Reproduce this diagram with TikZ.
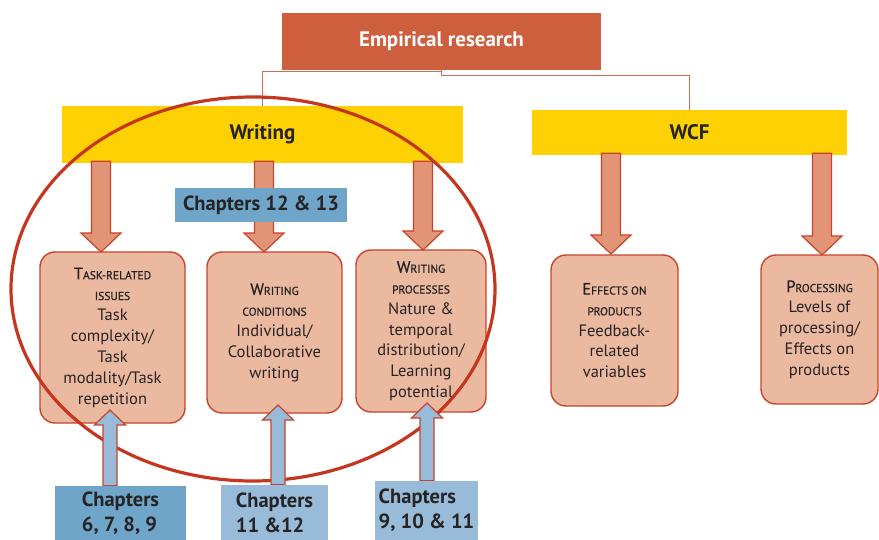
\documentclass[tikz,border=0pt]{standalone}
\usepackage{fontspec}
\setmainfont{PT Sans}
\newfontfamily\headfont[FakeBold=0.7]{PT Sans}
\usetikzlibrary{calc}

\definecolor{brick}{HTML}{CD5F3F}
\definecolor{gold}{HTML}{FDD103}
\definecolor{salmon}{HTML}{E19476}
\definecolor{peach}{HTML}{EBB9A0}
\definecolor{rust}{HTML}{C8442A}
\definecolor{ringred}{HTML}{C4371E}
\definecolor{steel}{HTML}{6FA5C8}
\definecolor{sky}{HTML}{97BBD9}
\definecolor{ink}{HTML}{262324}
\definecolor{linkred}{HTML}{D36A52}

\pgfdeclarelayer{front}
\pgfsetlayers{main,front}

% small capitals built from reduced upper-case letters, set a little heavier
\newcommand\leadcap[1]{{\headfont #1}}
\newcommand\minicaps[1]{{\headfont\fontsize{11.5pt}{20.8pt}\selectfont #1}}

% block arrow pointing down from a node to a tip coordinate
\newcommand\downblock[2]{%
  \draw[downarrow] let \p1=(#2.south), \p2=(#1) in
    (\x2-9.5pt,\y1+2pt) -- (\x2-9.5pt,\y2+19pt) -- (\x2-20pt,\y2+19pt) -- (\x2,\y2)
    -- (\x2+20pt,\y2+19pt) -- (\x2+9.5pt,\y2+19pt) -- (\x2+9.5pt,\y1+2pt) -- cycle;}

% block arrow pointing up from a node to a tip coordinate
\newcommand\upblock[2]{%
  \draw[uparrow] let \p1=(#2.north), \p2=(#1) in
    (\x2-7pt,\y1) -- (\x2-7pt,\y2-15pt) -- (\x2-15.5pt,\y2-15pt) -- (\x2,\y2)
    -- (\x2+15.5pt,\y2-15pt) -- (\x2+7pt,\y2-15pt) -- (\x2+7pt,\y1) -- cycle;}

\tikzset{
  headbox/.style={fill=brick, text=white, inner sep=0pt,
    font=\fontsize{21pt}{24pt}\selectfont\bfseries},
  bar/.style={fill=gold, text=ink, inner sep=0pt,
    font=\fontsize{21pt}{24pt}\selectfont\bfseries},
  topic/.style={draw=rust, line width=1.4pt, fill=peach, rounded corners=15pt,
    text=ink, align=center, inner sep=0pt,
    font=\fontsize{16.5pt}{20.8pt}\selectfont},
  chap/.style={fill=#1, text=ink, inner sep=0pt, align=left,
    font=\fontsize{20.5pt}{25pt}\selectfont\bfseries},
  link/.style={draw=linkred, line width=1pt},
  downarrow/.style={draw=rust, fill=salmon, line width=1.2pt, line join=miter},
  uparrow/.style={draw=rust, fill=sky, line width=1.2pt, line join=miter},
  ring/.style={draw=ringred, line width=3.2pt}
}

\begin{document}
\begin{tikzpicture}[x=1pt, y=-1pt]
\useasboundingbox (0,0) rectangle (879,540);

% heading and the two branches
\node[headbox, minimum width=319pt, minimum height=57pt] (emp) at (441.5,41.5) {Empirical research};
\node[bar, minimum width=401pt, minimum height=57pt] (writing) at (262.5,134.5) {Writing};
\node[bar, minimum width=315pt, minimum height=45pt] (wcf) at (689.5,132.5) {WCF};

\draw[link] (emp.south) -- ++(0,1) -| (writing.north);
\draw[link] (emp.south) -- ++(0,5) -| (wcf.north);

% topic boxes
\node[topic, minimum width=145pt, minimum height=171pt] (task) at (112.5,337.5)
  {\leadcap{T}\minicaps{ASK-RELATED}\\\minicaps{ISSUES}\\Task\\complexity/\\Task\\modality/Task\\repetition};
\node[topic, minimum width=135pt, minimum height=161pt] (conds) at (274.5,332.5)
  {\leadcap{W}\minicaps{RITING}\\\minicaps{CONDITIONS}\\Individual/\\Collaborative\\writing};
\node[topic, minimum width=130pt, minimum height=162pt] (procs) at (421,331)
  {\leadcap{W}\minicaps{RITING}\\\minicaps{PROCESSES}\\Nature \&\\temporal\\distribution/\\Learning\\potential};
\node[topic, minimum width=127pt, minimum height=151pt] (effects) at (614.5,330.5)
  {\leadcap{E}\minicaps{FFECTS ON}\\\minicaps{PRODUCTS}\\Feedback-\\related\\variables};
\node[topic, minimum width=117pt, minimum height=149pt] (levels) at (819.5,329.5)
  {\leadcap{P}\minicaps{ROCESSING}\\Levels of\\processing/\\Effects on\\products};

% arrow tips
\coordinate (d1) at (101,252);
\coordinate (d2) at (264,252);
\coordinate (d3) at (423,250);
\coordinate (d4) at (611,254);
\coordinate (d5) at (822,255);
\coordinate (u1) at (110,410);
\coordinate (u2) at (278,405);
\coordinate (u3) at (427,403);

\downblock{d1}{writing}
\downblock{d2}{writing}
\downblock{d3}{writing}
\downblock{d4}{wcf}
\downblock{d5}{wcf}

\node[chap=steel, minimum width=172pt, minimum height=34pt] (ch1213) at (261,205) {Chapters 12 \& 13};

% the writing cluster
\draw[ring] (253,289) ellipse [x radius=242pt, y radius=192pt];

% chapter references below
\begin{pgfonlayer}{front}
\node[chap=steel, minimum width=131pt, minimum height=54pt] (chA) at (120.5,513) {Chapters\\6, 7, 8, 9};
\node[chap=sky, minimum width=107pt, minimum height=55pt] (chB) at (274.5,512.5) {Chapters\\11 \&12};
\node[chap=sky, minimum width=103pt, minimum height=59pt] (chC) at (426.5,510.5) {Chapters\\9, 10 \& 11};
\end{pgfonlayer}

\upblock{u1}{chA}
\upblock{u2}{chB}
\upblock{u3}{chC}
\end{tikzpicture}
\end{document}
